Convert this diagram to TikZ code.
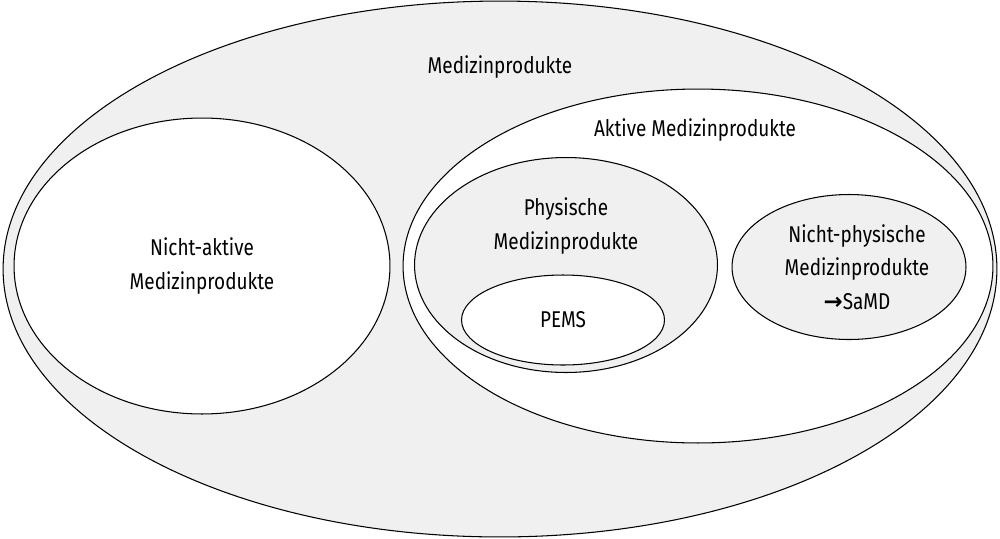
\documentclass[tikz,border=0pt]{standalone}
\usepackage{fontspec}
\setmainfont{Fira Sans}[FakeStretch=0.83]
\newfontfamily\arrowfont{DejaVu Sans}
\usetikzlibrary{shapes.geometric}
\definecolor{setgray}{RGB}{240,240,240}

\begin{document}
\begin{tikzpicture}[x=0.02cm, y=-0.02cm, every node/.style={font=\fontsize{13}{19}\selectfont, text=black, align=center}]
        \tikzset{
            setbox/.style={ellipse, draw=black, line width=0.6pt, inner sep=0pt},
            grayset/.style={setbox, fill=setgray},
            whiteset/.style={setbox, fill=white}
        }
        \useasboundingbox (0,0) rectangle (1000,538);

        % Medizinprodukte
        \node[grayset, minimum width=19.88cm, minimum height=10.72cm] (mp) at (500,269) {};
        \node (mpLabel) at (500,67) {Medizinprodukte};

        % Nicht-aktive
        \node[whiteset, minimum width=7.52cm, minimum height=5.92cm] (nap) at (202,266) {};
        \node (napLabel) at (202,266) {Nicht-aktive\\Medizinprodukte};

        % Aktive
        \node[whiteset, minimum width=11.8cm, minimum height=7.08cm] (ap) at (698,266) {};
        \node (apLabel) at (695,130) {Aktive Medizinprodukte};

        % Physische
        \node[grayset, minimum width=6.06cm, minimum height=4.3cm] (pmp) at (566,265) {};
        \node (pmpLabel) at (566,226) {Physische\\Medizinprodukte};

        % PEMS
        \node[whiteset, minimum width=4.06cm, minimum height=1.8cm] (pems) at (563,320) {};
        \node (pemsLabel) at (563,320) {PEMS};

        % Nicht-physische
        \node[grayset, minimum width=4.68cm, minimum height=2.9cm] (npmp) at (849,267) {};
        \node (npmpLabel) at (857,267) {Nicht-physische\\Medizinprodukte\\{\arrowfont\bfseries\fontsize{13}{19}\selectfont →}SaMD};
    \end{tikzpicture}
\end{document}
